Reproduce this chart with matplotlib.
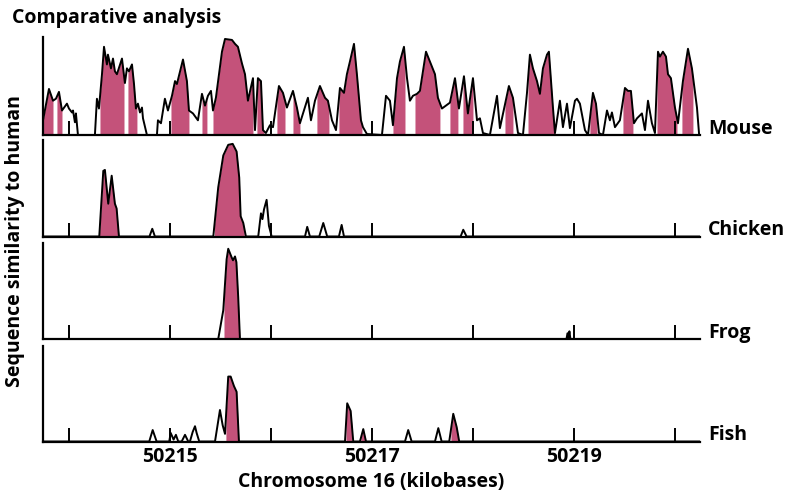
import numpy as np
import matplotlib.pyplot as plt

plt.rcParams['font.family'] = ['Open Sans', 'DejaVu Sans']
plt.rcParams['font.weight'] = 'bold'

PINK = '#c4527a'

# position along chromosome 16 (kb) and similarity to human (0-100)
mouse_x = [50213.743, 50213.802, 50213.842, 50213.871, 50213.901, 50213.931, 50213.980,
           50214.000, 50214.030, 50214.040, 50214.059, 50214.069, 50214.089, 50214.257,
           50214.277, 50214.297, 50214.327, 50214.347, 50214.376, 50214.386, 50214.416,
           50214.436, 50214.455, 50214.475, 50214.525, 50214.554, 50214.574, 50214.594,
           50214.624, 50214.644, 50214.663, 50214.683, 50214.703, 50214.723, 50214.733,
           50214.772, 50214.871, 50214.881, 50214.911, 50214.950, 50214.980, 50215.020,
           50215.050, 50215.069, 50215.129, 50215.168, 50215.188, 50215.228, 50215.277,
           50215.317, 50215.347, 50215.376, 50215.406, 50215.426, 50215.455, 50215.515,
           50215.545, 50215.614, 50215.644, 50215.673, 50215.713, 50215.743, 50215.772,
           50215.822, 50215.842, 50215.871, 50215.901, 50215.921, 50215.950, 50215.990,
           50216.020, 50216.079, 50216.119, 50216.158, 50216.218, 50216.257, 50216.287,
           50216.317, 50216.366, 50216.396, 50216.436, 50216.485, 50216.535, 50216.564,
           50216.604, 50216.644, 50216.683, 50216.723, 50216.752, 50216.782, 50216.822,
           50216.851, 50216.891, 50216.911, 50216.950, 50217.099, 50217.139, 50217.178,
           50217.208, 50217.248, 50217.277, 50217.317, 50217.347, 50217.376, 50217.406,
           50217.446, 50217.475, 50217.535, 50217.574, 50217.624, 50217.653, 50217.693,
           50217.733, 50217.772, 50217.822, 50217.861, 50217.911, 50217.950, 50218.000,
           50218.040, 50218.069, 50218.099, 50218.168, 50218.238, 50218.267, 50218.356,
           50218.396, 50218.446, 50218.495, 50218.535, 50218.564, 50218.594, 50218.634,
           50218.663, 50218.693, 50218.733, 50218.752, 50218.792, 50218.812, 50218.861,
           50218.891, 50218.931, 50218.960, 50219.010, 50219.030, 50219.059, 50219.109,
           50219.139, 50219.188, 50219.218, 50219.248, 50219.287, 50219.327, 50219.356,
           50219.376, 50219.406, 50219.455, 50219.505, 50219.535, 50219.564, 50219.594,
           50219.624, 50219.673, 50219.703, 50219.733, 50219.772, 50219.802, 50219.832,
           50219.851, 50219.881, 50219.911, 50219.931, 50219.960, 50220.000, 50220.030,
           50220.079, 50220.129, 50220.168, 50220.218, 50220.238]
mouse_y = [15, 47, 35, 37, 44, 25, 32,
           27, 23, 25, 13, 22, 0, 0,
           37, 27, 62, 90, 72, 82, 68,
           78, 65, 62, 78, 53, 68, 65,
           72, 52, 27, 32, 23, 28, 17,
           0, 0, 15, 12, 37, 25, 40,
           55, 52, 77, 55, 25, 22, 15,
           42, 30, 40, 45, 25, 38, 85,
           98, 97, 93, 90, 73, 62, 35,
           58, 5, 58, 55, 5, 2, 10,
           8, 50, 43, 28, 45, 28, 12,
           22, 38, 15, 35, 50, 38, 35,
           15, 5, 48, 43, 62, 75, 93,
           62, 15, 8, 1, 0, 40, 35,
           10, 58, 75, 90, 58, 35, 40,
           42, 45, 85, 75, 62, 38, 27,
           30, 33, 58, 27, 60, 22, 58,
           15, 17, 2, 0, 40, 7, 50,
           38, 2, 0, 43, 82, 68, 55,
           42, 68, 82, 85, 28, 2, 35,
           8, 32, 7, 35, 37, 32, 5,
           0, 43, 32, 2, 0, 25, 15,
           23, 8, 15, 48, 45, 45, 12,
           17, 22, 5, 35, 12, 2, 85,
           80, 85, 80, 62, 58, 28, 12,
           55, 88, 68, 28, 2]
mouse_spans = [(50213.743, 50213.842), (50213.881, 50213.931), (50214.307, 50214.545),
               (50214.584, 50214.673), (50215.010, 50215.188), (50215.317, 50215.366),
               (50215.426, 50215.822), (50215.861, 50215.931), (50216.059, 50216.139),
               (50216.218, 50216.287), (50216.455, 50216.574), (50216.673, 50216.901),
               (50217.208, 50217.327), (50217.426, 50217.673), (50217.772, 50217.851),
               (50217.901, 50218.000), (50218.317, 50218.396), (50218.545, 50218.812),
               (50219.158, 50219.228), (50219.485, 50219.584), (50219.822, 50220.020),
               (50220.069, 50220.178)]

chicken_x = [50213.743, 50214.300, 50214.340, 50214.356, 50214.389, 50214.423, 50214.455,
             50214.472, 50214.495, 50214.797, 50214.825, 50214.851, 50215.429, 50215.478,
             50215.528, 50215.577, 50215.621, 50215.660, 50215.686, 50215.700, 50215.726,
             50215.752, 50215.874, 50215.901, 50215.916, 50215.931, 50215.957, 50215.980,
             50215.995, 50216.007, 50216.337, 50216.359, 50216.386, 50216.478, 50216.518,
             50216.557, 50216.673, 50216.700, 50216.723, 50217.878, 50217.904, 50217.937,
             50220.248]
chicken_y = [0, 0, 68, 69, 34, 63, 34,
             29, 0, 0, 8, 0, 0, 51,
             84, 95, 96, 88, 61, 21, 14,
             0, 0, 24, 18, 28, 38, 11,
             5, 0, 0, 10, 0, 0, 14,
             0, 0, 12, 0, 0, 7, 0,
             0]
chicken_spans = [(50214.300, 50214.495), (50215.440, 50215.735)]

frog_x = [50213.743, 50215.478, 50215.528, 50215.561, 50215.577, 50215.611, 50215.624,
          50215.644, 50215.658, 50215.676, 50215.693, 50218.926, 50218.936, 50218.946,
          50218.955, 50218.965, 50220.248]
frog_y = [0, 0, 30, 83, 94, 85, 82,
          86, 80, 43, 0, 0, 6, 0,
          8, 0, 0]
frog_spans = [(50215.535, 50215.693)]

fish_x = [50213.743, 50214.795, 50214.829, 50214.868, 50214.993, 50215.007, 50215.036,
          50215.059, 50215.082, 50215.116, 50215.149, 50215.181, 50215.198, 50215.225,
          50215.248, 50215.264, 50215.290, 50215.446, 50215.495, 50215.522, 50215.545,
          50215.577, 50215.601, 50215.634, 50215.660, 50215.683, 50216.733, 50216.755,
          50216.789, 50216.815, 50216.881, 50216.914, 50216.941, 50217.327, 50217.359,
          50217.393, 50217.624, 50217.657, 50217.690, 50217.765, 50217.805, 50217.839,
          50217.864, 50220.248]
fish_y = [0, 0, 12, 0, 0, 9, 2,
          7, 0, 0, 7, 0, 0, 10,
          16, 9, 0, 0, 33, 17, 8,
          68, 68, 58, 52, 0, 0, 40,
          32, 0, 0, 13, 0, 0, 12,
          0, 0, 14, 0, 0, 29, 15,
          0, 0]
fish_spans = [(50215.554, 50215.683), (50216.743, 50216.802), (50216.890, 50216.941),
              (50217.782, 50217.851)]

species = ['Mouse', 'Chicken', 'Frog', 'Fish']
tick_kb = [50214, 50215, 50216, 50217, 50218, 50219, 50220]
tick_labels = ['', '50215', '', '50217', '', '50219', '']

series = [(mouse_x, mouse_y, mouse_spans), (chicken_x, chicken_y, chicken_spans),
          (frog_x, frog_y, frog_spans), (fish_x, fish_y, fish_spans)]

W, H = 790, 497
fig = plt.figure(figsize=(W / 100, H / 100), dpi=100)

# panel baselines / tops in pixels
bases = [135, 236.5, 339, 441.5]
tops = [37, 140, 243, 346]

for i, (name, (xs, ys, spans)) in enumerate(zip(species, series)):
    ax = fig.add_axes([43 / W, 1 - bases[i] / H, 657 / W, (bases[i] - tops[i]) / H])
    x = np.array(xs)
    y = np.array(ys, dtype=float)
    for a, b in spans:
        inner = (x > a) & (x < b)
        fx = np.concatenate([[a], x[inner], [b]])
        fy = np.concatenate([[np.interp(a, x, y)], y[inner], [np.interp(b, x, y)]])
        ax.fill_between(fx, 0, fy, color=PINK, lw=0, zorder=1)
    ax.plot(x, y, color='black', lw=1.4, zorder=2)
    ax.set_xlim(50213.743, 50220.248)
    ax.set_ylim(0, 100)
    for s in ['top', 'right']:
        ax.spines[s].set_visible(False)
    for s in ['left', 'bottom']:
        ax.spines[s].set_linewidth(1.6)
        ax.spines[s].set_zorder(3)
    ax.set_yticks([])
    ax.set_xticks(tick_kb)
    ax.tick_params(axis='x', direction='in', length=10, width=1.4, pad=4,
                   labelsize=14)
    if i == 3:
        ax.set_xticklabels(tick_labels, fontweight='bold')
    else:
        ax.set_xticklabels([])
    ax.patch.set_alpha(0)
    ax.text(1.012, 0.015, name, transform=ax.transAxes, ha='left', va='baseline',
            fontsize=14, fontweight='bold')

fig.text(12 / W, 1 - 18 / H, 'Comparative analysis', ha='left', va='center',
         fontsize=14, fontweight='bold')
fig.text(15 / W, 1 - 241 / H, 'Sequence similarity to human', rotation=90,
         ha='center', va='center', fontsize=14, fontweight='bold')
fig.text(371 / W, 1 - 482 / H, 'Chromosome 16 (kilobases)', ha='center', va='center',
         fontsize=14, fontweight='bold')

fig.savefig('out.png', dpi=100)
